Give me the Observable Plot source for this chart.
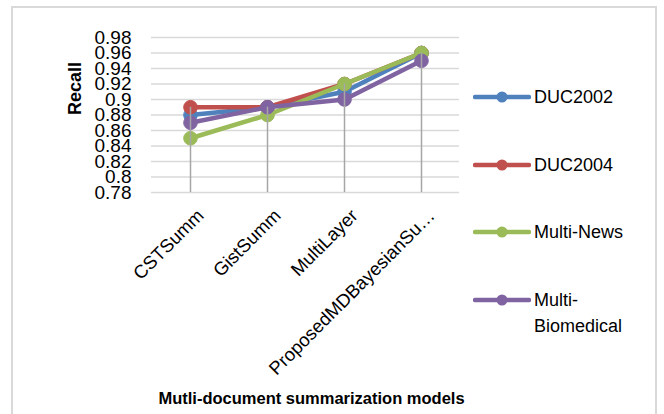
<!DOCTYPE html>
<html>
<head>
<meta charset="utf-8">
<script src="https://cdn.jsdelivr.net/npm/d3@7"></script>
<script src="https://cdn.jsdelivr.net/npm/@observablehq/plot@0.6"></script>
<style>
  html, body { margin: 0; padding: 0; background: #fff; }
  #wrap { position: relative; width: 664px; height: 414px; overflow: hidden; font-family: "Liberation Sans", Arial, sans-serif; }
  #border { position: absolute; left: 11px; top: 6px; width: 646px; height: 420px; border: 2px solid #d9d9d9; box-sizing: border-box; }
  #chart { position: absolute; left: 0; top: 0; }
  .leg { position: absolute; left: 473px; display: flex; align-items: flex-start; font-size: 18px; color: #000; }
  .leg svg { margin-right: 3px; flex: none; }
  .leg span { line-height: 26px; }
</style>
</head>
<body>
<div id="wrap">
  <div id="border"></div>
  <div id="chart"></div>
  <div id="legend"></div>
</div>
<script>
const categories = ["CSTSumm", "GistSumm", "MultiLayer", "ProposedMDBayesianSu…"];
const seriesNames = ["DUC2002", "DUC2004", "Multi-News", "Multi-Biomedical"];
const legendLabels = ["DUC2002", "DUC2004", "Multi-News", "Multi-<br>Biomedical"];
const duc2002 = [0.88, 0.89, 0.91, 0.96];
const duc2004 = [0.89, 0.89, 0.92, 0.96];
const multiNews = [0.85, 0.88, 0.92, 0.96];
const multiBiomedical = [0.87, 0.89, 0.90, 0.95];
const yTicks = [0.78, 0.80, 0.82, 0.84, 0.86, 0.88, 0.90, 0.92, 0.94, 0.96, 0.98];
const colors = ["#4F81BD", "#C0504D", "#9BBB59", "#8064A2"];
const yTitle = "Recall";
const xTitle = "Mutli-document summarization models";

const seriesValues = [duc2002, duc2004, multiNews, multiBiomedical];
const data = seriesNames.flatMap((s, i) =>
  categories.map((c, j) => ({series: s, cat: c, value: seriesValues[i][j]})));
const maxByCat = categories.map((c, j) => ({cat: c, top: d3.max(seriesValues, v => v[j])}));

const seriesMarks = seriesNames.flatMap((s, i) => {
  const d = data.filter(r => r.series === s);
  return [
    Plot.line(d, {x: "cat", y: "value", stroke: colors[i], strokeWidth: 4.5, strokeLinejoin: "round", strokeLinecap: "round"}),
    Plot.dot(d, {x: "cat", y: "value", fill: colors[i], stroke: colors[i], strokeWidth: 1, r: 6.8})
  ];
});

const chart = Plot.plot({
  width: 664,
  height: 414,
  marginLeft: 151,
  marginRight: 205,
  marginTop: 37,
  marginBottom: 222,
  x: {type: "point", domain: categories, padding: 0.5, axis: null},
  y: {domain: [0.78, 0.98], axis: null},
  style: {fontFamily: "'Liberation Sans', Arial, sans-serif", fontSize: "18px", background: "transparent", color: "#000"},
  marks: [
    Plot.ruleY(yTicks, {stroke: "#d9d9d9", strokeWidth: 1.3}),
    Plot.axisY({ticks: yTicks, tickSize: 0, tickPadding: 20, fontSize: 19, label: null,
      tickFormat: d => String(+d.toFixed(2))}),
    Plot.text([yTitle], {frameAnchor: "left", dx: -76, rotate: -90, fontWeight: "bold", fontSize: 18}),
    ...seriesMarks,
    Plot.ruleX(maxByCat, {x: "cat", y1: 0.78, y2: "top", stroke: "#a6a6a6", strokeWidth: 1.5}),
    Plot.text(categories, {x: d => d, frameAnchor: "bottom", dy: 15, dx: 5, rotate: -45,
      textAnchor: "end", lineAnchor: "top", fontSize: 18.5}),
    Plot.text([xTitle], {frameAnchor: "bottom", dy: 211, dx: 6, fontWeight: "bold", fontSize: 16.5})
  ]
});
document.getElementById("chart").appendChild(chart);

const legendY = [97, 165, 232, 300];
const legend = document.getElementById("legend");
seriesNames.forEach((s, i) => {
  const div = document.createElement("div");
  div.className = "leg";
  div.style.top = (legendY[i] - 13) + "px";
  div.innerHTML = `<svg width="58" height="26"><line x1="2" y1="13" x2="56" y2="13" stroke="${colors[i]}" stroke-width="4.5" stroke-linecap="round"/><circle cx="29" cy="13" r="5.5" fill="${colors[i]}"/></svg><span>${legendLabels[i]}</span>`;
  legend.appendChild(div);
});
</script>
</body>
</html>
